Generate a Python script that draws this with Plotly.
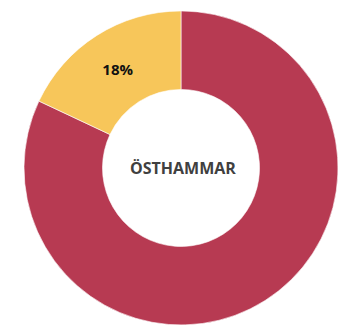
import plotly.graph_objects as go

# Share of the municipality total
labels = ["Övrigt", "Andel"]
values = [82, 18]
slice_text = ["", "<b>18%</b>"]
colors = ["#B73A52", "#F7C65A"]
center_label = "ÖSTHAMMAR"

fig = go.Figure(
    go.Pie(
        labels=labels,
        values=values,
        text=slice_text,
        textinfo="text",
        textposition="inside",
        insidetextorientation="horizontal",
        textfont=dict(family="Open Sans", size=15, color="#111111"),
        hole=0.5,
        sort=False,
        direction="clockwise",
        rotation=0,
        marker=dict(colors=colors, line=dict(color="rgba(255,255,255,0.6)", width=1)),
        domain=dict(x=[0.071, 1.0], y=[0.012, 0.967]),
        showlegend=False,
        hoverinfo="skip",
    )
)

fig.add_annotation(
    text="<b>" + center_label + "</b>",
    x=0.54, y=0.49, xref="paper", yref="paper",
    showarrow=False,
    font=dict(family="Open Sans", size=16, color="#404040"),
)

fig.update_layout(
    width=338, height=329,
    margin=dict(l=0, r=0, t=0, b=0),
    paper_bgcolor="white",
    plot_bgcolor="white",
)

fig.write_html("out.html")
